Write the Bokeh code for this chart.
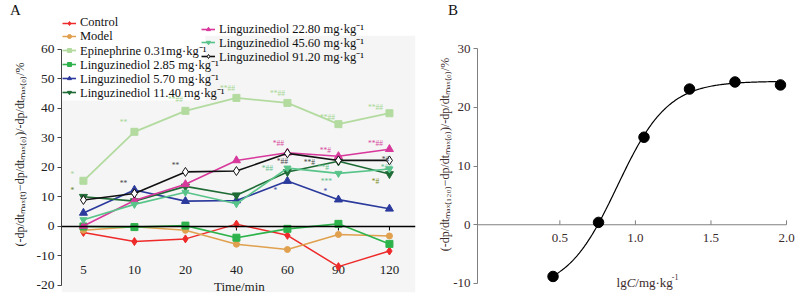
import numpy as np
from bokeh.plotting import figure
from bokeh.layouts import row, column
from bokeh.models import (Range1d, Span, Label, Legend, LegendItem, ColumnDataSource,
                          PrintfTickFormatter, BoxAnnotation, Div)
from bokeh.core.properties import value
from bokeh.embed import file_html
from bokeh.resources import INLINE

FONT = "Liberation Serif"

# ---------------- data: panel A ----------------
times = ["5", "10", "20", "40", "60", "90", "120"]
control = [-2.0, -5.1, -4.2, 0.8, -3.0, -13.6, -8.3]
model = [-1.3, -0.1, -1.3, -6.0, -7.8, -2.7, -3.2]
epinephrine = [15.5, 32.1, 39.2, 43.6, 41.9, 34.7, 38.4]
lgz_2_85 = [0.0, -0.2, 0.3, -3.8, -0.8, 0.9, -5.9]
lgz_5_70 = [4.6, 12.4, 8.6, 8.8, 15.4, 9.1, 6.0]
lgz_11_40 = [10.1, 8.6, 13.6, 10.6, 18.5, 22.1, 17.8]
lgz_22_80 = [0.2, 8.8, 14.3, 22.4, 25.0, 23.8, 26.2]
lgz_45_60 = [2.3, 7.5, 11.6, 7.7, 19.8, 18.0, 19.5]
lgz_91_20 = [9.0, 11.2, 18.5, 18.8, 24.8, 22.4, 22.4]

series_labels = ["Control", "Model", "Epinephrine 0.31mg·kg⁻¹",
                 "Linguzinediol 2.85 mg·kg⁻¹", "Linguzinediol 5.70 mg·kg⁻¹",
                 "Linguzinediol 11.40 mg·kg⁻¹", "Linguzinediol 22.80 mg·kg⁻¹",
                 "Linguzinediol 45.60 mg·kg⁻¹", "Linguzinediol 91.20 mg·kg⁻¹"]
series_values = [control, model, epinephrine, lgz_2_85, lgz_5_70,
                 lgz_11_40, lgz_22_80, lgz_45_60, lgz_91_20]

# significance marks: (series index, time index, text)
ann_series = [2, 5, 2, 2, 2, 2, 2, 2, 8, 8, 6, 6, 6, 8, 5, 7, 7, 7, 7, 5, 8, 4, 4]
ann_time = [0, 0, 1, 2, 3, 4, 5, 6, 1, 2, 4, 5, 6, 4, 5, 4, 5, 5, 6, 6, 6, 4, 5]
ann_text = ["*", "*", "**", "**##", "**##", "**##", "**##", "**##", "**", "**",
            "*##", "**#", "**##", "*##", "**#", "*##", "**#", "***", "*##", "*#", "*#", "*", "*"]

# ---------------- data: panel B ----------------
doses = [2.85, 5.70, 11.40, 22.80, 45.60, 91.20]
response_120 = [-8.8, 0.4, 14.9, 23.1, 24.3, 23.8]
b_xticks = [0.5, 1.0, 1.5, 2.0]
b_yticks = [-10, 0, 10, 20, 30]
a_yticks = [-20, -10, 0, 10, 20, 30, 40, 50, 60]

# ---------------- styles ----------------
s_colors = ["#ee2a2a", "#e0a04e", "#b3dba0", "#2eb34c", "#2b3a9c",
            "#1f6b35", "#d8389c", "#58c48a", "#111111"]
s_markers = ["diamond", "circle", "square", "square", "triangle",
             "inverted_triangle", "triangle", "inverted_triangle", "diamond"]
s_sizes = [8, 6, 7, 7, 8, 8, 8, 7, 9]
s_fill = [None, None, None, None, None, None, None, None, "white"]
s_width = [1.5, 1.5, 1.8, 1.6, 1.6, 1.6, 1.6, 1.6, 1.6]
ann_colors = ["#a6d693", "#5e7f2a", "#a6d693", "#a6d693", "#a6d693", "#a6d693", "#a6d693",
              "#a6d693", "#444444", "#444444", "#d84aa0", "#d84aa0", "#d84aa0", "#444444",
              "#3c4a3c", "#5cc08a", "#5cc08a", "#5cc08a", "#5cc08a", "#7a8a20", "#444444",
              "#3a4aa8", "#3a4aa8"]
ann_dx = [-11, -11, -11, -10, -9, -10, -11, -14, -11, -10, -9, -13, -14, -5, -29,
          -20, -15, -12, -3, -14, -4, -12, -13]
ann_dy = [6, 6, 9, 11, 9, 9, 7, 6, 10, 6, 9, 6, 6, -8, -1, 0, 6, -8, 1, -8, 1, -9, 8]
# legend columns: glyph left edge, first row centre (page px), row pitch, item slice
leg_cols = [(62, 22.5, 13.9, 0, 6), (201, 28.5, 13.9, 6, 9)]

YLAB_A = "(-dp/dtₘₐₓ₍ₜ₎−dp/dtₘₐₓ₍₀₎)/-dp/dtₘₐₓ₍₀₎/%"
YLAB_B = "(-dp/dtₘₐₓ₍₁₂₀₎−dp/dtₘₐₓ₍₀₎)/-dp/dtₘₐₓ₍₀₎/%"

TOP = 16            # height of the panel-letter strip
FRAME_BOTTOM = 292  # page y of both frames' bottom edge

REG_W = {'(': .333, ')': .333, '-': .333, '−': .564, 'd': .5, 'p': .5, '/': .278,
         't': .278, 'm': .778, 'a': .444, 'x': .5, '%': .833, 'l': .278, 'g': .5,
         'C': .667, '·': .25, 'k': .5, ' ': .25}


def tw(s, size):
    return sum(REG_W.get(c, .5) for c in s) * size


def add_rich(p, pieces, cx, cy, color, base=13.0, small=8.0):
    sizes = [small if st in ("sub", "sup") else base for _, st in pieces]
    total = sum(tw(t, s) for (t, _), s in zip(pieces, sizes))
    pos = -total / 2
    for (t, st), s in zip(pieces, sizes):
        shift = {"sub": -3.0, "sup": 5.0}.get(st, 0.0)
        p.add_layout(Label(x=cx + pos, y=cy + shift, x_units="screen", y_units="screen",
                           text=t, text_font=FONT, text_font_size=f"{s}px",
                           text_font_style="italic" if st == "i" else "normal",
                           text_color=color, text_align="left",
                           text_baseline="alphabetic"))
        pos += tw(t, s)


def letter(width, text, pad):
    return Div(text=text, width=width, height=TOP, margin=0,
               styles={"font-family": FONT, "font-size": "15px", "line-height": f"{TOP + 4}px",
                       "padding-left": f"{pad}px", "color": "#111111", "margin": "0"})


def style_yaxis(ax, ticks, bounds, col, lab_col, label, standoff, size):
    ax.ticker = ticks
    ax.bounds = bounds
    ax.formatter = PrintfTickFormatter(format="%d")
    ax.axis_line_color = col
    ax.major_tick_line_color = col
    ax.major_tick_out = 4
    ax.major_tick_in = 0
    ax.minor_tick_line_color = None
    ax.major_label_text_font = FONT
    ax.major_label_text_font_size = size
    ax.major_label_text_color = lab_col
    ax.major_label_standoff = 3
    ax.axis_label = label
    ax.axis_label_text_font = FONT
    ax.axis_label_text_font_size = "12px"
    ax.axis_label_text_font_style = "normal"
    ax.axis_label_text_color = lab_col
    ax.axis_label_standoff = standoff


FIG_H = 300 - TOP
BORDER_B = 300 - FRAME_BOTTOM

# ================= Panel A =================
A_LEFT = 61
pA = figure(width=430, height=FIG_H, output_backend="svg", toolbar_location=None,
            x_range=Range1d(-0.43, 6.511), y_range=Range1d(-22.373, 71.186),
            x_axis_location=None, min_border_left=A_LEFT, min_border_right=15,
            min_border_top=0, min_border_bottom=BORDER_B)
pA.outline_line_color = None
pA.grid.visible = False
pA.background_fill_color = "white"
pA.border_fill_color = "white"
pA.add_layout(BoxAnnotation(top=64.7, fill_color="#f4f5f4", fill_alpha=1.0,
                            line_color=None, level="underlay"))
pA.add_layout(BoxAnnotation(right=2.39, bottom=42.7, fill_color="white", fill_alpha=1.0,
                            line_color=None, level="underlay"))
style_yaxis(pA.yaxis[0], a_yticks, (-20, 60), "#444444", "#222222", YLAB_A, 7, "13.5px")

pA.add_layout(Span(location=0, dimension="width", line_color="black", line_width=1.3))

xi = list(range(len(times)))
pA.segment(x0=xi, y0=[0] * len(xi), x1=xi, y1=[-1.35] * len(xi),
           line_color="black", line_width=1)
pA.text(x=xi, y=[-20] * len(xi), text=times, text_font=value(FONT),
        text_font_size="13px", text_align="center", text_baseline="middle",
        y_offset=-15, text_color="#222222")

items = []
for k, vals in enumerate(series_values):
    ln = pA.line(xi, vals, line_color=s_colors[k], line_width=s_width[k])
    sc = pA.scatter(xi, vals, marker=s_markers[k], size=s_sizes[k],
                    line_color=s_colors[k],
                    fill_color=s_fill[k] if s_fill[k] else s_colors[k])
    items.append(LegendItem(label=series_labels[k], renderers=[ln, sc]))

ann_src = ColumnDataSource(dict(
    x=ann_time,
    y=[series_values[s][t] for s, t in zip(ann_series, ann_time)],
    text=ann_text, color=ann_colors, dx=ann_dx, dy=[-d for d in ann_dy]))
pA.text(x="x", y="y", text="text", text_color="color", x_offset="dx", y_offset="dy",
        source=ann_src, text_font=value(FONT), text_font_size="7.5px",
        text_align="center", text_baseline="middle")

ITEM_H = 20
for gx, c0, pitch, i0, i1 in leg_cols:
    for j, it in enumerate(items[i0:i1]):
        c = c0 + pitch * j
        lg = Legend(items=[it], location=(gx - A_LEFT, FRAME_BOTTOM - c - ITEM_H / 2),
                    margin=0, padding=0, spacing=0, border_line_color=None,
                    background_fill_alpha=0, label_text_font=FONT,
                    label_text_font_size="12.5px", label_text_color="#111111",
                    glyph_width=14, glyph_height=10, label_height=ITEM_H,
                    label_standoff=4, label_text_baseline="middle")
        pA.add_layout(lg)

pA.add_layout(Label(x=3, y=-20, y_offset=-1, x_offset=3, text="Time/min",
                    text_font=FONT, text_font_size="13px", text_align="center",
                    text_baseline="middle", text_color="#222222"))

# ================= Panel B =================
BCOL = "#3b2a2a"
B_LEFT = 47
B_RIGHT = 4
pB = figure(width=372, height=FIG_H, output_backend="svg", toolbar_location=None,
            x_range=Range1d(-0.045, 2.0793), y_range=Range1d(-11.532, 35.447),
            x_axis_location=None, min_border_left=B_LEFT, min_border_right=B_RIGHT,
            min_border_top=0, min_border_bottom=BORDER_B)
pB.outline_line_color = None
pB.grid.visible = False
pB.background_fill_color = "white"
pB.border_fill_color = "white"
style_yaxis(pB.yaxis[0], b_yticks, (-10, 30), "#808080", BCOL, YLAB_B, -2, "13px")

# horizontal axis line at y = 0 from the vertical axis to the last tick
pB.segment(x0=[pB.x_range.start], y0=[0], x1=[b_xticks[-1]], y1=[0],
           line_color="#808080", line_width=1.2)
pB.segment(x0=b_xticks, y0=[0] * len(b_xticks), x1=b_xticks, y1=[0.75] * len(b_xticks),
           line_color="#808080", line_width=1)
pB.text(x=b_xticks, y=[0] * len(b_xticks), text=[f"{t:.1f}" for t in b_xticks],
        text_font=value(FONT), text_font_size="13px", text_align="center",
        text_baseline="middle", y_offset=13, text_color=BCOL)

# four-parameter logistic fitted to the points
lgc = np.log10(np.array(doses))
resp = np.array(response_120)
best = None
for x0 in np.linspace(0.6, 1.2, 121):
    for h in np.linspace(1.0, 5.0, 161):
        f = 1.0 / (1.0 + 10 ** ((x0 - lgc) * h))
        M = np.column_stack([1 - f, f])
        coef, *_ = np.linalg.lstsq(M, resp, rcond=None)
        err = float(np.sum((M @ coef - resp) ** 2))
        if best is None or err < best[0]:
            best = (err, x0, h, coef)
_, fx0, fh, (fb, ft) = best
cx_ = np.linspace(lgc.min(), lgc.max(), 200)
cy_ = fb + (ft - fb) / (1.0 + 10 ** ((fx0 - cx_) * fh))
pB.line(cx_, cy_, line_color="black", line_width=1.2)
pB.scatter(lgc, resp, marker="circle", size=10.5, fill_color="black", line_color="black")

add_rich(pB, [("lg", "r"), ("C", "i"), ("/mg·kg", "r"), ("-1", "sup")],
         170, FRAME_BOTTOM - 281.5, BCOL, base=13, small=8)

layout = row(column(letter(430, "A", 10), pA), column(letter(372, "B", 18), pB))
open("out.html", "w").write(file_html(layout, INLINE))
